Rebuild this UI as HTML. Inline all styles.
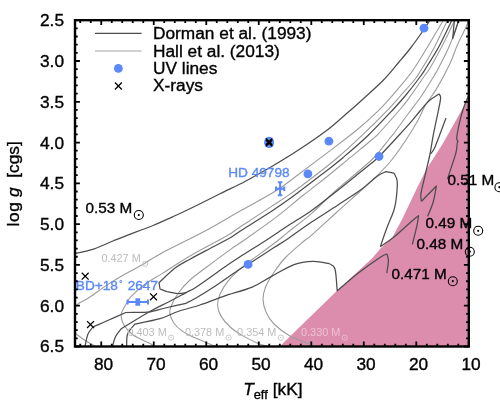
<!DOCTYPE html>
<html><head><meta charset="utf-8"><title>log g vs Teff</title>
<style>
html,body{margin:0;padding:0;background:#fff;}
body{width:500px;height:420px;overflow:hidden;}
svg{display:block;will-change:transform;}
text{font-family:"Liberation Sans",sans-serif;}
</style></head><body>
<svg width="500" height="420" viewBox="0 0 500 420">
<rect width="500" height="420" fill="#fff"/>
<defs><clipPath id="c"><rect x="75" y="20.2" width="393.8" height="326.3"/></clipPath></defs>

<path d="M468.8,97.4 L442.6,144.0 L426.0,170.0 L418.0,186.0 L402.0,219.6 L392.0,238.0 L381.0,248.0 L372.4,258.1 L337.0,290.8 L279.7,346.5 L468.8,346.5 Z" fill="#dc8cac" clip-path="url(#c)"/>
<g clip-path="url(#c)" fill="none" stroke-linejoin="round" stroke-linecap="butt">
<path d="M96.0,346.5 C94.3,345.6 89.5,343.2 86.0,341.0 C82.5,338.8 76.8,334.3 75.0,333.0" stroke="#9c9c9c" stroke-width="1.1"/>
<path d="M75.0,308.0 C75.5,307.3 75.5,305.8 78.0,304.0 C80.5,302.2 85.0,300.3 90.0,297.0 C95.0,293.7 102.0,288.3 108.0,284.4 C114.0,280.5 120.0,277.1 126.0,273.6 C132.0,270.2 138.0,267.1 144.0,263.7 C150.0,260.2 151.5,258.5 162.0,252.9 C172.5,247.3 194.0,237.0 207.0,230.0 C220.0,223.0 228.5,217.5 240.0,211.0 C251.5,204.5 266.0,197.1 276.0,190.8 C286.0,184.5 291.2,179.7 300.0,173.2 C308.8,166.7 319.1,159.0 328.8,151.6 C338.5,144.2 349.2,136.4 358.0,129.0 C366.8,121.6 373.7,115.6 381.6,107.4 C389.5,99.2 399.9,86.6 405.4,80.0 C410.9,73.4 410.6,73.8 414.5,68.0 C418.4,62.2 424.0,52.8 428.7,45.0 C433.4,37.2 440.5,25.0 442.9,21.0" stroke="#9c9c9c" stroke-width="1.1"/>
<path d="M153.0,346.5 C152.7,346.1 154.3,345.9 151.0,344.0 C147.7,342.1 137.5,338.2 133.0,335.0 C128.5,331.8 126.0,328.5 124.0,325.0 C122.0,321.5 120.9,317.7 121.3,314.2 C121.7,310.7 124.6,306.9 126.2,304.0 C127.8,301.1 128.0,299.8 131.0,296.6 C134.0,293.4 138.8,288.8 144.0,285.0 C149.2,281.2 154.3,278.4 162.0,273.6 C169.7,268.8 179.2,262.3 190.0,256.0 C200.8,249.7 218.7,240.6 227.0,235.8 C235.3,231.0 230.6,233.2 240.0,227.0 C249.4,220.8 273.2,205.4 283.2,198.7 C293.2,192.0 291.2,193.6 300.0,187.0 C308.8,180.4 325.7,167.6 336.0,159.0 C346.3,150.4 353.2,143.8 362.0,135.4 C370.8,127.0 382.4,115.4 388.8,108.8 C395.2,102.2 395.9,101.0 400.3,96.0 C404.7,91.0 411.5,83.7 415.2,79.0 C418.9,74.3 419.9,71.8 422.3,68.0 C424.7,64.2 427.4,59.8 429.6,56.0 C431.8,52.2 432.6,50.8 435.5,45.0 C438.4,39.2 445.2,25.0 447.1,21.0" stroke="#9c9c9c" stroke-width="1.1"/>
<path d="M216.0,346.5 C214.6,345.9 210.4,344.3 207.6,343.2 C204.8,342.1 202.1,340.9 199.2,339.6 C196.3,338.3 192.9,337.0 190.0,335.5 C187.1,334.0 184.3,332.7 181.6,330.6 C178.9,328.6 175.9,325.9 174.0,323.2 C172.1,320.5 170.5,316.9 170.0,314.2 C169.5,311.5 169.5,310.4 170.8,307.0 C172.1,303.6 174.8,298.0 178.0,293.5 C181.2,289.0 185.2,284.4 190.0,280.0 C194.8,275.6 199.8,272.3 206.8,267.0 C213.8,261.7 225.8,252.9 232.0,248.4 C238.2,243.9 237.0,245.2 244.3,240.0 C251.6,234.8 266.2,224.8 276.0,217.4 C285.8,210.0 294.1,202.5 302.9,195.5 C311.7,188.5 320.9,181.5 328.8,175.2 C336.7,168.8 343.2,163.3 350.4,157.4 C357.6,151.5 367.3,143.7 372.2,139.5 C377.1,135.3 375.4,137.0 380.0,132.0 C384.6,127.0 394.9,115.5 400.0,109.5 C405.1,103.5 406.6,101.4 410.5,96.0 C414.4,90.6 420.4,81.7 423.7,77.0 C426.9,72.3 426.8,73.3 430.0,68.0 C433.2,62.7 438.6,52.8 442.7,45.0 C446.8,37.2 452.4,25.0 454.4,21.0" stroke="#9c9c9c" stroke-width="1.1"/>
<path d="M268.0,346.5 C266.2,345.9 261.4,344.9 257.1,343.0 C252.8,341.1 246.5,338.1 242.0,335.4 C237.5,332.7 233.7,330.2 230.2,327.0 C226.7,323.8 223.1,319.7 221.0,316.1 C218.9,312.5 217.7,308.9 217.6,305.2 C217.5,301.5 218.4,297.9 220.2,293.8 C222.0,289.7 225.2,284.6 228.6,280.4 C232.0,276.2 236.5,272.1 240.4,268.6 C244.3,265.1 246.6,263.7 252.2,259.5 C257.8,255.3 268.1,248.0 274.0,243.5 C279.9,239.0 281.2,237.7 287.5,232.6 C293.8,227.5 304.0,220.0 312.0,213.1 C320.0,206.2 325.3,199.9 335.3,191.0 C345.3,182.1 363.1,168.1 372.0,159.5 C380.9,150.9 385.1,144.0 388.8,139.5 C392.6,135.0 391.3,136.8 394.5,132.5 C397.7,128.2 403.5,120.1 408.0,114.0 C412.5,107.9 417.0,102.5 421.4,96.0 C425.8,89.5 431.5,79.9 434.4,75.2 C437.3,70.5 436.0,72.9 438.6,67.9 C441.2,62.9 446.5,52.8 449.8,45.0 C453.1,37.2 457.1,25.0 458.6,21.0" stroke="#9c9c9c" stroke-width="1.1"/>
<path d="M313.0,346.5 C312.5,346.1 313.8,346.1 310.0,344.4 C306.2,342.6 296.0,339.4 290.0,336.0 C284.0,332.6 278.0,328.0 274.0,324.0 C270.0,320.0 267.8,316.2 266.0,312.0 C264.2,307.8 263.1,303.2 263.0,299.0 C262.9,294.8 263.8,291.4 265.6,287.0 C267.4,282.6 270.6,277.3 274.0,272.3 C277.4,267.3 281.1,262.1 286.0,257.0 C290.9,251.9 299.1,245.2 303.4,241.5 C307.7,237.8 306.4,239.7 312.0,234.8 C317.6,229.9 329.3,219.0 337.0,212.0 C344.7,205.0 352.5,198.2 358.3,193.0 C364.1,187.8 366.7,185.9 372.0,180.7 C377.3,175.5 384.6,168.4 390.0,162.0 C395.4,155.6 400.0,148.8 404.6,142.0 C409.2,135.2 414.1,127.2 417.6,121.0 C421.1,114.8 422.4,110.3 425.5,105.0 C428.6,99.7 432.4,95.7 436.5,88.9 C440.6,82.1 446.3,71.4 449.8,64.1 C453.3,56.8 454.6,51.3 457.4,45.0 C460.1,38.7 464.5,30.5 466.3,26.5 C468.1,22.5 467.7,21.9 468.0,21.0" stroke="#9c9c9c" stroke-width="1.1"/>
<path d="M75.0,253.5 C78.1,252.8 87.3,251.2 93.6,249.1 C99.9,247.0 107.6,243.2 113.0,241.0 C118.4,238.8 119.3,238.4 126.0,235.8 C132.7,233.2 144.8,228.8 153.0,225.5 C161.2,222.2 168.0,219.0 175.0,215.8 C182.0,212.5 187.5,209.9 195.0,206.2 C202.5,202.5 211.7,197.9 220.0,193.8 C228.3,189.6 236.7,185.9 245.0,181.5 C253.3,177.1 260.8,172.9 270.0,167.5 C279.2,162.1 290.6,155.2 300.0,149.0 C309.4,142.8 319.1,136.2 326.6,130.5 C334.1,124.8 339.1,120.1 345.0,115.0 C350.9,109.9 355.7,105.8 362.0,100.0 C368.3,94.2 376.8,86.8 383.0,80.5 C389.2,74.2 394.3,67.5 399.0,62.0 C403.7,56.5 407.1,52.6 411.0,47.5 C414.9,42.4 419.3,36.1 422.5,31.5 C425.7,26.9 428.8,21.9 430.0,20.0" stroke="#4d4d4d" stroke-width="1.25"/>
<path d="M447.5,179.0 C448.0,177.4 449.2,173.8 450.6,169.4 C452.0,165.0 454.9,157.0 456.0,152.6 C457.1,148.2 456.9,144.8 457.2,143.0 C457.5,141.2 457.9,141.8 458.0,141.6 L456.6,139.0 C456.8,137.4 457.2,133.6 458.0,129.6 C458.8,125.6 460.2,119.4 461.4,115.0 C462.6,110.6 464.1,106.3 465.4,103.0 C466.7,99.7 468.4,96.3 469.0,95.0" stroke="#4d4d4d" stroke-width="1.25"/>
<path d="M427.6,216.4 C428.5,214.0 431.7,207.1 433.2,202.0 C434.7,196.9 435.9,188.7 436.4,186.0 L421.5,201.2 C421.4,200.0 420.3,198.4 420.9,194.0 C421.5,189.6 423.8,181.1 425.2,174.8 C426.6,168.5 428.2,162.7 429.6,156.0 C431.0,149.3 432.1,141.2 433.4,134.4 C434.7,127.6 436.2,121.2 437.4,115.2 C438.6,109.2 440.3,101.9 440.6,98.4 C440.9,94.9 439.3,94.7 439.0,94.0 C437.4,95.1 432.6,97.7 429.4,100.5 C426.2,103.3 423.2,107.3 420.0,111.0 C416.8,114.7 414.6,117.8 410.4,122.6 C406.2,127.4 399.8,134.3 394.6,140.0 C389.4,145.7 382.8,152.7 379.0,156.5 C375.2,160.3 376.0,159.5 372.0,162.8 C368.0,166.1 360.6,172.0 355.0,176.5 C349.4,181.0 345.4,184.4 338.2,190.0 C331.0,195.6 320.4,204.2 312.0,210.2 C303.6,216.2 294.8,221.3 287.5,226.1 C280.2,230.9 273.2,235.7 268.1,239.0 C263.1,242.3 261.9,243.0 257.2,246.0 C252.5,249.0 245.6,253.2 240.0,256.8 C234.4,260.4 230.9,262.7 223.6,267.8 C216.3,272.9 202.3,283.1 196.0,287.2 C189.7,291.3 190.7,290.1 186.0,292.6 C181.3,295.1 174.2,299.0 168.0,302.2 C161.8,305.4 156.8,307.6 149.0,312.0 C141.2,316.4 125.8,326.0 121.2,328.8 C120.3,330.1 117.0,333.7 115.6,336.6 C114.1,339.6 113.0,344.9 112.5,346.5" stroke="#4d4d4d" stroke-width="1.25"/>
<path d="M446.0,118.0 C444.2,122.8 437.6,141.0 435.0,147.0 C432.4,153.0 431.2,152.8 430.5,154.0" stroke="#4d4d4d" stroke-width="1.25"/>
<path d="M454.3,21.0 L452.7,38.6 L458.5,21.0" stroke="#4d4d4d" stroke-width="1.25"/>
<path d="M186.1,292.6 C184.8,292.8 181.2,293.6 178.0,293.5 C174.8,293.4 170.2,292.4 167.2,291.7 C164.2,290.9 161.2,289.4 160.0,289.0 L159.0,282.7 C161.8,280.2 170.5,271.5 175.7,267.6 C180.9,263.7 184.3,262.4 190.0,259.2 C195.7,256.0 203.0,252.2 210.0,248.5 C217.0,244.8 227.0,239.6 232.0,236.7 C237.0,233.8 233.9,235.1 240.0,231.2 C246.1,227.3 260.4,218.6 268.8,213.1 C277.2,207.6 284.2,202.6 290.4,198.2 C296.6,193.8 300.8,190.4 306.0,186.5 C311.2,182.6 315.4,179.4 321.6,174.6 C327.8,169.8 335.5,163.9 343.2,157.4 C350.9,150.9 359.7,143.5 368.0,135.5 C376.3,127.5 386.9,116.1 393.1,109.5 C399.3,102.9 400.6,101.4 405.1,96.0 C409.6,90.6 416.5,81.7 420.0,77.0 C423.5,72.3 423.8,71.5 426.0,68.0 C428.2,64.5 431.1,59.8 433.4,56.0 C435.7,52.2 436.8,50.8 439.8,45.0 C442.8,39.2 449.6,25.0 451.5,21.0" stroke="#4d4d4d" stroke-width="1.25"/>
<path d="M412.4,244.4 C413.2,241.1 416.2,229.2 417.2,224.4 C418.2,219.6 418.3,217.1 418.5,215.6 C417.1,216.8 414.1,219.2 410.0,222.8 C405.9,226.4 398.9,233.1 394.0,237.0 C389.1,240.9 382.8,244.9 380.5,246.5 C381.0,244.9 382.4,240.4 383.6,237.0 C384.8,233.6 385.9,230.5 387.6,226.0 C389.3,221.5 392.5,214.8 394.0,210.0 C395.5,205.2 395.9,202.0 396.4,197.2 C396.9,192.4 397.6,185.2 397.2,181.2 C396.8,177.2 394.5,174.5 394.0,173.2 L386.0,171.6 C384.8,172.2 381.3,173.5 379.0,175.0 C376.7,176.5 375.0,178.0 372.0,180.4 C369.0,182.8 366.9,185.4 361.2,189.5 C355.5,193.6 346.2,199.6 338.0,205.0 C329.8,210.4 320.7,216.0 312.0,221.8 C303.3,227.6 292.3,235.7 286.0,240.0 C279.7,244.3 280.3,243.5 274.0,247.6 C267.7,251.7 253.6,261.0 248.0,264.5 C242.4,268.0 246.2,265.0 240.4,268.8 C234.6,272.6 220.4,282.6 213.0,287.5 C205.6,292.4 200.5,295.4 196.0,298.0 C191.5,300.6 187.7,302.4 186.0,303.3 C182.6,304.1 171.4,306.6 165.4,308.0 C159.4,309.4 154.2,311.2 150.0,311.9 C145.8,312.6 144.0,312.2 140.0,312.3 C136.0,312.4 128.2,312.5 125.8,312.5 C122.5,314.0 111.5,318.9 106.0,321.3 C100.5,323.7 95.2,326.1 93.0,327.0 C92.2,328.2 89.3,330.8 88.0,334.0 C86.7,337.2 85.5,344.4 85.0,346.5" stroke="#4d4d4d" stroke-width="1.25"/>
<path d="M386.8,273.2 C387.1,271.1 388.4,263.6 388.4,260.4 C388.4,257.2 387.1,255.1 386.8,254.0 C385.7,254.5 385.2,254.0 380.4,257.2 C375.6,260.4 365.2,267.6 358.0,273.2 C350.8,278.8 340.7,287.9 337.2,290.8 C336.8,287.2 336.3,273.5 335.0,269.0 C333.7,264.5 330.2,264.5 329.2,263.6 C326.5,263.2 319.1,261.2 313.2,261.4 C307.3,261.6 300.9,262.1 294.0,264.6 C287.1,267.1 278.6,272.6 271.6,276.4 C264.6,280.1 260.2,283.8 252.2,287.1 C244.2,290.4 232.3,293.3 223.6,296.3 C214.9,299.3 207.6,302.5 200.0,305.0 C192.4,307.5 184.7,309.2 178.0,311.5 C171.3,313.8 167.2,316.6 160.0,318.7 C152.8,320.8 139.0,323.2 134.8,324.1 C133.6,325.8 128.9,330.3 127.6,334.0 C126.2,337.7 126.8,344.4 126.7,346.5" stroke="#4d4d4d" stroke-width="1.25"/>
</g>
<text x="101.4" y="261.8" font-size="10.9" style="fill:#bcbcbc">0.427 M</text>
<circle cx="145.1" cy="263.8" r="2.6" fill="none" stroke="#bcbcbc" stroke-width="0.8"/>
<circle cx="145.1" cy="263.8" r="0.7" fill="#bcbcbc"/>
<text x="127.4" y="335.6" font-size="10.9" style="fill:#bcbcbc">0.403 M</text>
<circle cx="171.1" cy="337.6" r="2.6" fill="none" stroke="#bcbcbc" stroke-width="0.8"/>
<circle cx="171.1" cy="337.6" r="0.7" fill="#bcbcbc"/>
<text x="184.9" y="335.6" font-size="10.9" style="fill:#bcbcbc">0.378 M</text>
<circle cx="228.6" cy="337.6" r="2.6" fill="none" stroke="#bcbcbc" stroke-width="0.8"/>
<circle cx="228.6" cy="337.6" r="0.7" fill="#bcbcbc"/>
<text x="237.1" y="335.6" font-size="10.9" style="fill:#bcbcbc">0.354 M</text>
<circle cx="280.8" cy="337.6" r="2.6" fill="none" stroke="#bcbcbc" stroke-width="0.8"/>
<circle cx="280.8" cy="337.6" r="0.7" fill="#bcbcbc"/>
<text x="301" y="335.6" font-size="10.9" style="fill:#ecc3d4">0.330 M</text>
<circle cx="344.7" cy="337.6" r="2.6" fill="none" stroke="#ecc3d4" stroke-width="0.8"/>
<circle cx="344.7" cy="337.6" r="0.7" fill="#ecc3d4"/>
<text x="85.5" y="212.5" font-size="15.3" fill="#000" stroke="#000" stroke-width="0.35">0.53 M</text>
<circle cx="138.8" cy="215.0" r="4.5" fill="none" stroke="#000" stroke-width="1.1"/>
<circle cx="138.8" cy="215.0" r="1.1" fill="#000"/>
<text x="447.5" y="184.7" font-size="15.3" fill="#000" stroke="#000" stroke-width="0.35">0.51 M</text>
<circle cx="499.4" cy="187.2" r="4.5" fill="none" stroke="#000" stroke-width="1.1"/>
<circle cx="499.4" cy="187.2" r="1.1" fill="#000"/>
<text x="425.6" y="228.3" font-size="15.3" fill="#000" stroke="#000" stroke-width="0.35">0.49 M</text>
<circle cx="478.2" cy="230.8" r="4.5" fill="none" stroke="#000" stroke-width="1.1"/>
<circle cx="478.2" cy="230.8" r="1.1" fill="#000"/>
<text x="416.5" y="249.2" font-size="15.3" fill="#000" stroke="#000" stroke-width="0.35">0.48 M</text>
<circle cx="469.8" cy="251.7" r="4.5" fill="none" stroke="#000" stroke-width="1.1"/>
<circle cx="469.8" cy="251.7" r="1.1" fill="#000"/>
<text x="391.5" y="278.7" font-size="15.3" fill="#000" stroke="#000" stroke-width="0.35">0.471 M</text>
<circle cx="452.8" cy="281.2" r="4.5" fill="none" stroke="#000" stroke-width="1.1"/>
<circle cx="452.8" cy="281.2" r="1.1" fill="#000"/>
<circle cx="424" cy="28.2" r="4.4" fill="#5b88fa"/>
<circle cx="269.1" cy="141.7" r="4.85" fill="#5b88fa"/>
<circle cx="269.1" cy="143.2" r="4.85" fill="#5b88fa"/>
<circle cx="328.9" cy="141.2" r="4.4" fill="#5b88fa"/>
<circle cx="379" cy="156.5" r="4.4" fill="#5b88fa"/>
<circle cx="307.9" cy="173.9" r="4.4" fill="#5b88fa"/>
<circle cx="248.1" cy="264.4" r="4.4" fill="#5b88fa"/>
<path d="M265.95000000000005,138.54999999999998 L272.25,144.85 M265.95000000000005,144.85 L272.25,138.54999999999998" stroke="#000" stroke-width="1.5" fill="none"/>
<path d="M265.95000000000005,139.95 L272.25,146.25 M265.95000000000005,146.25 L272.25,139.95" stroke="#000" stroke-width="1.5" fill="none"/>
<path d="M81.75,272.75 L88.65,279.65 M81.75,279.65 L88.65,272.75" stroke="#000" stroke-width="1.3" fill="none"/>
<path d="M150.05,293.35 L156.95,300.25 M150.05,300.25 L156.95,293.35" stroke="#000" stroke-width="1.3" fill="none"/>
<path d="M87.05,321.15000000000003 L93.95,328.05 M87.05,328.05 L93.95,321.15000000000003" stroke="#000" stroke-width="1.3" fill="none"/>
<path d="M276.0,188.7 L284.20000000000005,188.7 M280.1,182.2 L280.1,195.2 M276.0,186.45 L276.0,190.95 M284.20000000000005,186.45 L284.20000000000005,190.95 M277.85,182.2 L282.35,182.2 M277.85,195.2 L282.35,195.2" stroke="#5b88fa" stroke-width="2" fill="none"/>
<rect x="278.6" y="187.2" width="3.0" height="3.0" fill="#5b88fa"/>
<path d="M127.60000000000001,302.0 L148.0,302.0 M137.8,299.5 L137.8,304.5 M127.60000000000001,299.6 L127.60000000000001,304.4 M148.0,299.6 L148.0,304.4 M135.4,299.5 L140.20000000000002,299.5 M135.4,304.5 L140.20000000000002,304.5" stroke="#5b88fa" stroke-width="2" fill="none"/>
<rect x="135.70000000000002" y="298.5" width="4.2" height="7.0" fill="#5b88fa"/>
<text x="228.2" y="176.7" font-size="13.65" fill="#5b88fa" stroke="#5b88fa" stroke-width="0.35">HD 49798</text>
<text x="75.8" y="289.8" font-size="13.65" fill="#5b88fa" stroke="#5b88fa" stroke-width="0.35">BD+18<tspan font-size="8.5" dy="-5.2" stroke="none">∘</tspan><tspan dy="5.2"> 2647</tspan></text>
<path d="M95,33.4 L141.6,33.4" stroke="#4d4d4d" stroke-width="1.2"/>
<path d="M95,51 L141.6,51" stroke="#a6a6a6" stroke-width="1.2"/>
<circle cx="118.4" cy="68.4" r="4.4" fill="#5b88fa"/>
<path d="M114.95,82.55 L121.85000000000001,89.45 M114.95,89.45 L121.85000000000001,82.55" stroke="#000" stroke-width="1.3" fill="none"/>
<text x="153" y="39" font-size="17.3" fill="#000" stroke="#000" stroke-width="0.35">Dorman et al. (1993)</text>
<text x="153" y="56.9" font-size="17.3" fill="#000" stroke="#000" stroke-width="0.35">Hall et al. (2013)</text>
<text x="153" y="74.3" font-size="17.3" fill="#000" stroke="#000" stroke-width="0.35">UV lines</text>
<text x="153" y="91.4" font-size="17.3" fill="#000" stroke="#000" stroke-width="0.35">X-rays</text>
<path d="M80.25,20.2 v2.7 M80.25,346.5 v-2.7 M90.75,20.2 v2.7 M90.75,346.5 v-2.7 M101.25,20.2 v4.9 M101.25,346.5 v-4.9 M111.75,20.2 v2.7 M111.75,346.5 v-2.7 M122.26,20.2 v2.7 M122.26,346.5 v-2.7 M132.76,20.2 v2.7 M132.76,346.5 v-2.7 M143.26,20.2 v2.7 M143.26,346.5 v-2.7 M153.76,20.2 v4.9 M153.76,346.5 v-4.9 M164.26,20.2 v2.7 M164.26,346.5 v-2.7 M174.76,20.2 v2.7 M174.76,346.5 v-2.7 M185.26,20.2 v2.7 M185.26,346.5 v-2.7 M195.77,20.2 v2.7 M195.77,346.5 v-2.7 M206.27,20.2 v4.9 M206.27,346.5 v-4.9 M216.77,20.2 v2.7 M216.77,346.5 v-2.7 M227.27,20.2 v2.7 M227.27,346.5 v-2.7 M237.77,20.2 v2.7 M237.77,346.5 v-2.7 M248.27,20.2 v2.7 M248.27,346.5 v-2.7 M258.77,20.2 v4.9 M258.77,346.5 v-4.9 M269.27,20.2 v2.7 M269.27,346.5 v-2.7 M279.78,20.2 v2.7 M279.78,346.5 v-2.7 M290.28,20.2 v2.7 M290.28,346.5 v-2.7 M300.78,20.2 v2.7 M300.78,346.5 v-2.7 M311.28,20.2 v4.9 M311.28,346.5 v-4.9 M321.78,20.2 v2.7 M321.78,346.5 v-2.7 M332.28,20.2 v2.7 M332.28,346.5 v-2.7 M342.78,20.2 v2.7 M342.78,346.5 v-2.7 M353.29,20.2 v2.7 M353.29,346.5 v-2.7 M363.79,20.2 v4.9 M363.79,346.5 v-4.9 M374.29,20.2 v2.7 M374.29,346.5 v-2.7 M384.79,20.2 v2.7 M384.79,346.5 v-2.7 M395.29,20.2 v2.7 M395.29,346.5 v-2.7 M405.79,20.2 v2.7 M405.79,346.5 v-2.7 M416.29,20.2 v4.9 M416.29,346.5 v-4.9 M426.79,20.2 v2.7 M426.79,346.5 v-2.7 M437.30,20.2 v2.7 M437.30,346.5 v-2.7 M447.80,20.2 v2.7 M447.80,346.5 v-2.7 M458.30,20.2 v2.7 M458.30,346.5 v-2.7 M468.80,20.2 v4.9 M468.80,346.5 v-4.9 M75.0,20.20 h4.9 M468.8,20.20 h-4.9 M75.0,28.36 h2.7 M468.8,28.36 h-2.7 M75.0,36.52 h2.7 M468.8,36.52 h-2.7 M75.0,44.67 h2.7 M468.8,44.67 h-2.7 M75.0,52.83 h2.7 M468.8,52.83 h-2.7 M75.0,60.99 h4.9 M468.8,60.99 h-4.9 M75.0,69.15 h2.7 M468.8,69.15 h-2.7 M75.0,77.30 h2.7 M468.8,77.30 h-2.7 M75.0,85.46 h2.7 M468.8,85.46 h-2.7 M75.0,93.62 h2.7 M468.8,93.62 h-2.7 M75.0,101.78 h4.9 M468.8,101.78 h-4.9 M75.0,109.93 h2.7 M468.8,109.93 h-2.7 M75.0,118.09 h2.7 M468.8,118.09 h-2.7 M75.0,126.25 h2.7 M468.8,126.25 h-2.7 M75.0,134.41 h2.7 M468.8,134.41 h-2.7 M75.0,142.56 h4.9 M468.8,142.56 h-4.9 M75.0,150.72 h2.7 M468.8,150.72 h-2.7 M75.0,158.88 h2.7 M468.8,158.88 h-2.7 M75.0,167.03 h2.7 M468.8,167.03 h-2.7 M75.0,175.19 h2.7 M468.8,175.19 h-2.7 M75.0,183.35 h4.9 M468.8,183.35 h-4.9 M75.0,191.51 h2.7 M468.8,191.51 h-2.7 M75.0,199.67 h2.7 M468.8,199.67 h-2.7 M75.0,207.82 h2.7 M468.8,207.82 h-2.7 M75.0,215.98 h2.7 M468.8,215.98 h-2.7 M75.0,224.14 h4.9 M468.8,224.14 h-4.9 M75.0,232.29 h2.7 M468.8,232.29 h-2.7 M75.0,240.45 h2.7 M468.8,240.45 h-2.7 M75.0,248.61 h2.7 M468.8,248.61 h-2.7 M75.0,256.77 h2.7 M468.8,256.77 h-2.7 M75.0,264.93 h4.9 M468.8,264.93 h-4.9 M75.0,273.08 h2.7 M468.8,273.08 h-2.7 M75.0,281.24 h2.7 M468.8,281.24 h-2.7 M75.0,289.40 h2.7 M468.8,289.40 h-2.7 M75.0,297.56 h2.7 M468.8,297.56 h-2.7 M75.0,305.71 h4.9 M468.8,305.71 h-4.9 M75.0,313.87 h2.7 M468.8,313.87 h-2.7 M75.0,322.03 h2.7 M468.8,322.03 h-2.7 M75.0,330.19 h2.7 M468.8,330.19 h-2.7 M75.0,338.34 h2.7 M468.8,338.34 h-2.7 M75.0,346.50 h4.9 M468.8,346.50 h-4.9" stroke="#000" stroke-width="1.8" fill="none"/>
<rect x="75.0" y="20.2" width="393.8" height="326.3" fill="none" stroke="#000" stroke-width="2.4"/>
<text x="103.6" y="370" font-size="17.3" text-anchor="middle" fill="#000" stroke="#000" stroke-width="0.35">80</text>
<text x="156.1" y="370" font-size="17.3" text-anchor="middle" fill="#000" stroke="#000" stroke-width="0.35">70</text>
<text x="208.6" y="370" font-size="17.3" text-anchor="middle" fill="#000" stroke="#000" stroke-width="0.35">60</text>
<text x="261.1" y="370" font-size="17.3" text-anchor="middle" fill="#000" stroke="#000" stroke-width="0.35">50</text>
<text x="313.6" y="370" font-size="17.3" text-anchor="middle" fill="#000" stroke="#000" stroke-width="0.35">40</text>
<text x="366.1" y="370" font-size="17.3" text-anchor="middle" fill="#000" stroke="#000" stroke-width="0.35">30</text>
<text x="418.6" y="370" font-size="17.3" text-anchor="middle" fill="#000" stroke="#000" stroke-width="0.35">20</text>
<text x="471.1" y="370" font-size="17.3" text-anchor="middle" fill="#000" stroke="#000" stroke-width="0.35">10</text>
<text x="64" y="26.1" font-size="17.3" text-anchor="end" fill="#000" stroke="#000" stroke-width="0.35">2.5</text>
<text x="64" y="66.9" font-size="17.3" text-anchor="end" fill="#000" stroke="#000" stroke-width="0.35">3.0</text>
<text x="64" y="107.7" font-size="17.3" text-anchor="end" fill="#000" stroke="#000" stroke-width="0.35">3.5</text>
<text x="64" y="148.5" font-size="17.3" text-anchor="end" fill="#000" stroke="#000" stroke-width="0.35">4.0</text>
<text x="64" y="189.2" font-size="17.3" text-anchor="end" fill="#000" stroke="#000" stroke-width="0.35">4.5</text>
<text x="64" y="230.0" font-size="17.3" text-anchor="end" fill="#000" stroke="#000" stroke-width="0.35">5.0</text>
<text x="64" y="270.8" font-size="17.3" text-anchor="end" fill="#000" stroke="#000" stroke-width="0.35">5.5</text>
<text x="64" y="311.6" font-size="17.3" text-anchor="end" fill="#000" stroke="#000" stroke-width="0.35">6.0</text>
<text x="64" y="352.4" font-size="17.3" text-anchor="end" fill="#000" stroke="#000" stroke-width="0.35">6.5</text>
<text x="243.2" y="394.6" font-size="17.3" fill="#000" stroke="#000" stroke-width="0.35"><tspan font-style="italic">T</tspan><tspan font-size="12.8" dy="4">eff</tspan><tspan dy="-4" dx="0.2"> [kK]</tspan></text>
<g transform="translate(19.1,226.6) rotate(-90)" font-size="17.3" fill="#000" stroke="#000" stroke-width="0.35"><text x="0" y="0" textLength="24.4" lengthAdjust="spacing">log</text><text x="29.6" y="0" font-style="italic">g</text><text x="48.8" y="0">[cgs]</text></g>
</svg></body></html>
